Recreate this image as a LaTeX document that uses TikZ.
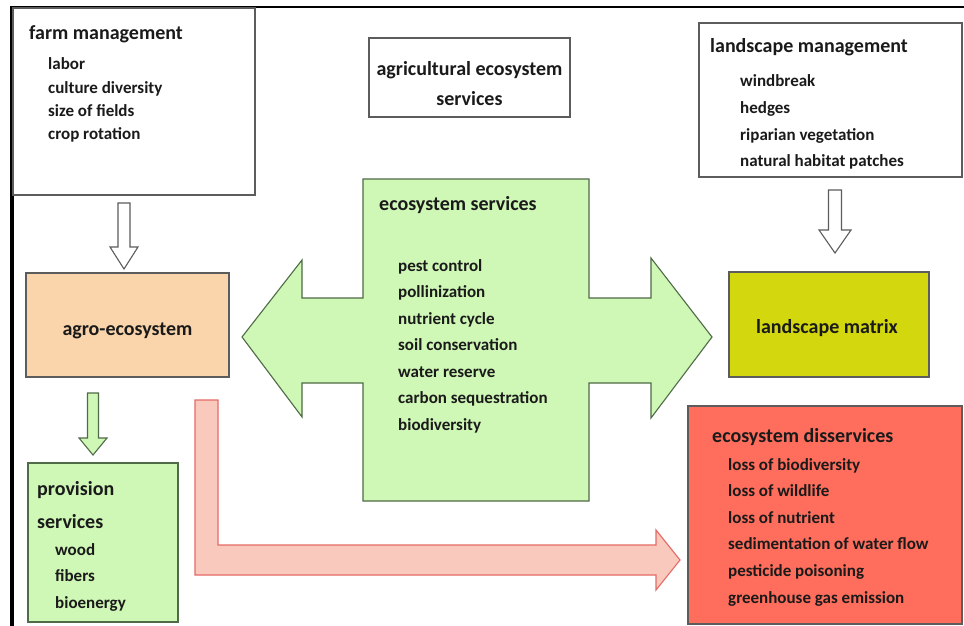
\documentclass[tikz,border=0pt]{standalone}
\usepackage{fontspec}
\setmainfont{Carlito}
\definecolor{txt}{HTML}{1A1A1A}
\definecolor{boxgray}{HTML}{5C5C5C}
\definecolor{peach}{HTML}{FAD4AA}
\definecolor{palegreen}{HTML}{CFF7B6}
\definecolor{greenline}{HTML}{4F6B47}
\definecolor{yellowgreen}{HTML}{D3D70E}
\definecolor{disred}{HTML}{FF6D5C}
\definecolor{pinkfill}{HTML}{FAC9BD}
\definecolor{pinkline}{HTML}{E46A66}
\begin{document}
\begin{tikzpicture}[x=1pt,y=-1pt,
  box/.style={draw=boxgray, line width=1.3pt, inner sep=0pt},
  ttl/.style={font=\fontsize{20}{24}\selectfont\bfseries, text=txt, inner sep=0pt, anchor=base west},
  itm/.style={font=\fontsize{17}{20}\selectfont\bfseries, text=txt, inner sep=0pt, anchor=base west},
  blockw/.style={draw=boxgray, line width=1.1pt, fill=white, line join=miter},
  blockg/.style={draw=greenline, line width=1.1pt, fill=palegreen, line join=miter},
  blockr/.style={draw=pinkline, line width=1.1pt, fill=pinkfill, line join=miter}]
\useasboundingbox (0,0) rectangle (964,626);
\fill[white] (0,0) rectangle (964,626);

% frame lines
\draw[line width=1.6pt, black] (10,7) -- (964,7);
\draw[line width=3.2pt, black] (12,7) -- (12,626);

% boxes
\node[box, fill=white, minimum width=242pt, minimum height=187pt] (farm) at (134,101.5) {};
\node[box, fill=white, minimum width=201pt, minimum height=79pt] (agri) at (469.5,77.5) {};
\node[box, fill=white, minimum width=263pt, minimum height=154pt] (land) at (830.5,100) {};
\node[box, fill=peach, minimum width=203pt, minimum height=104pt] (agro) at (127.5,325) {};
\node[box, fill=yellowgreen, minimum width=200pt, minimum height=105pt] (matrix) at (829,324.5) {};
\node[box, draw=greenline, fill=palegreen, minimum width=150pt, minimum height=159pt] (prov) at (103,542.5) {};
\node[box, fill=disred, minimum width=274pt, minimum height=218pt] (diss) at (825,515) {};

% central double arrow (ecosystem services)
\draw[blockg] (363,179) -- (589,179) -- (589,298) -- (651,298) -- (651,258) -- (712,337)
  -- (651,418) -- (651,383) -- (589,383) -- (589,501) -- (363,501) -- (363,383)
  -- (302,383) -- (302,417) -- (242,337) -- (302,260) -- (302,298) -- (363,298) -- cycle;

% block arrows
\draw[blockw] (118,203) -- (130,203) -- (130,247) -- (138,247) -- (124,269) -- (110,247) -- (118,247) -- cycle;
\draw[blockw] (828.5,190) -- (841.5,190) -- (841.5,230) -- (851,230) -- (835,253) -- (819,230) -- (828.5,230) -- cycle;
\draw[blockg] (87.5,393) -- (98.5,393) -- (98.5,438) -- (107,438) -- (93,455) -- (79,438) -- (87.5,438) -- cycle;
\draw[blockr] (195,400) -- (218,400) -- (218,545) -- (656,545) -- (656,530) -- (680,560)
  -- (656,590) -- (656,575) -- (195,575) -- cycle;

% texts
\node[ttl] (farmT) at (29,40) {farm management};
\foreach \t [count=\i] in {labor, culture diversity, size of fields, crop rotation}
  \node[itm] (farm\i) at (48,{70+(\i-1)*23.3}) {\t};

\node[ttl, anchor=base] (agriA) at (469.5,75) {agricultural ecosystem};
\node[ttl, anchor=base] (agriB) at (469.5,105) {services};

\node[ttl] (landT) at (710,53) {landscape management};
\foreach \t [count=\i] in {windbreak, hedges, riparian vegetation, natural habitat patches}
  \node[itm] (land\i) at (740,{87+(\i-1)*26.6}) {\t};

\node[ttl, anchor=base] (agroT) at (127.5,335) {agro-ecosystem};
\node[ttl, anchor=base] (matrixT) at (827,333) {landscape matrix};

\node[ttl] (esT) at (379,210) {ecosystem services};
\foreach \t [count=\i] in {pest control, pollinization, nutrient cycle, soil conservation, water reserve, carbon sequestration, biodiversity}
  \node[itm] (es\i) at (398,{271+(\i-1)*26.5}) {\t};

\node[ttl] (provA) at (37,495) {provision};
\node[ttl] (provB) at (37,528) {services};
\foreach \t [count=\i] in {wood, fibers, bioenergy}
  \node[itm] (prov\i) at (55,{555+(\i-1)*26.5}) {\t};

\node[ttl] (dissT) at (712,442) {ecosystem disservices};
\foreach \t [count=\i] in {loss of biodiversity, loss of wildlife, loss of nutrient, sedimentation of water flow, pesticide poisoning, greenhouse gas emission}
  \node[itm] (diss\i) at (728,{470+(\i-1)*26.6}) {\t};
\end{tikzpicture}
\end{document}
